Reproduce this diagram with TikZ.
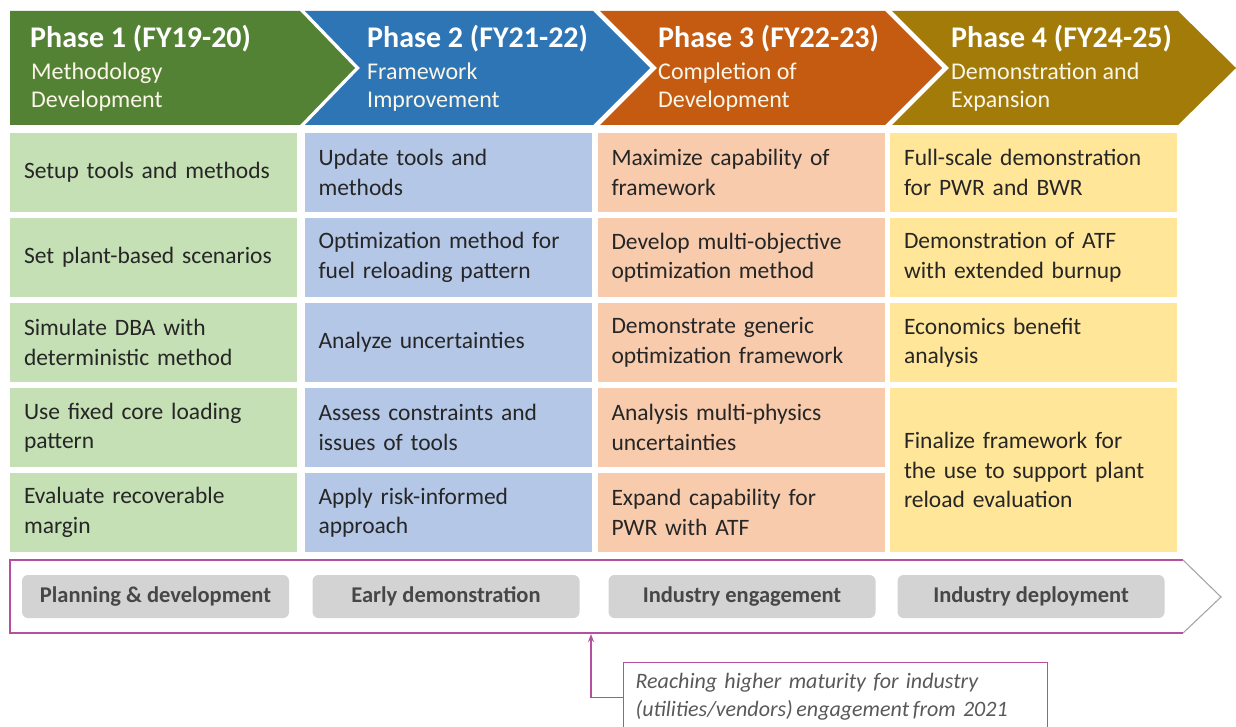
\documentclass[tikz,border=0pt]{standalone}
\usepackage{fontspec}
\setmainfont{Carlito}
\usetikzlibrary{arrows.meta}
\definecolor{hgreen}{HTML}{548235}
\definecolor{hblue}{HTML}{2E75B6}
\definecolor{horange}{HTML}{C55A11}
\definecolor{hgold}{HTML}{A37B09}
\definecolor{lgreen}{HTML}{C5E0B4}
\definecolor{lblue}{HTML}{B4C7E7}
\definecolor{lorange}{HTML}{F8CBAD}
\definecolor{lyellow}{HTML}{FFE699}
\definecolor{celltext}{HTML}{262626}
\definecolor{hdrtext}{HTML}{FAF6E8}
\definecolor{barline}{HTML}{B5509E}
\definecolor{graybox}{HTML}{D3D3D3}
\definecolor{graytext}{HTML}{474747}
\definecolor{notetext}{HTML}{595959}
\tikzset{
  cell/.style={rectangle, inner xsep=14pt, inner ysep=0pt, text width=259pt,
    minimum height=79pt, align=left, text=celltext,
    font=\fontsize{23.5}{29.5}\selectfont},
  phasetitle/.style={anchor=base west, inner sep=0pt, text=white,
    font=\fontsize{30}{34}\selectfont\bfseries},
  phasesub/.style={anchor=north west, inner sep=0pt, text=hdrtext, align=left,
    font=\fontsize{24}{28}\selectfont},
  stagebox/.style={rectangle, rounded corners=6pt, fill=graybox,
    minimum width=267pt, minimum height=43pt, text=graytext,
    font=\fontsize{22.5}{24}\selectfont\bfseries},
  notebox/.style={rectangle, draw=barline, line width=1.3pt, fill=white,
    anchor=north west, inner xsep=12pt, inner ysep=11pt, text width=400pt,
    align=left, text=notetext, font=\fontsize{22}{28}\selectfont\itshape},
}
\begin{document}
\begin{tikzpicture}[x=1pt,y=-1pt]
\clip (0,0) rectangle (1236,727);
\fill[white] (0,0) rectangle (1236,727);
% header chevrons
\fill[hgreen] (10,11) -- (300,11) -- (355,68) -- (300,125) -- (10,125) -- cycle;
\fill[hblue] (305,11) -- (593,11) -- (650,68) -- (593,125) -- (305,125) -- (360,68) -- cycle;
\fill[horange] (600,11) -- (885,11) -- (942,68) -- (885,125) -- (600,125) -- (657,68) -- cycle;
\fill[hgold] (892,11) -- (1178,11) -- (1236,68) -- (1178,125) -- (892,125) -- (949,68) -- cycle;
\node[phasetitle] (t1) at (30,48) {Phase 1 (FY19-20)};
\node[phasetitle] (t2) at (367,48) {Phase 2 (FY21-22)};
\node[phasetitle] (t3) at (658,48) {Phase 3 (FY22-23)};
\node[phasetitle] (t4) at (951,48) {Phase 4 (FY24-25)};
\node[phasesub] (s1) at (31,63) {Methodology\\Development};
\node[phasesub] (s2) at (367,63) {Framework\\Improvement};
\node[phasesub] (s3) at (658,63) {Completion of\\Development};
\node[phasesub] (s4) at (951,63) {Demonstration and\\Expansion};
% column 1
\node[cell, fill=lgreen] (a1) at (153.5,172.5) {Setup tools and methods};
\node[cell, fill=lgreen] (a2) at (153.5,257.5) {Set plant-based scenarios};
\node[cell, fill=lgreen] (a3) at (153.5,342.5) {Simulate DBA with\\deterministic method};
\node[cell, fill=lgreen] (a4) at (153.5,427.5) {Use fixed core loading\\pattern};
\node[cell, fill=lgreen] (a5) at (153.5,512.5) {Evaluate recoverable\\margin};
% column 2
\node[cell, fill=lblue] (b1) at (448,172.5) {Update tools and\\methods};
\node[cell, fill=lblue] (b2) at (448,257.5) {Optimization method for\\fuel reloading pattern};
\node[cell, fill=lblue] (b3) at (448,342.5) {Analyze uncertainties};
\node[cell, fill=lblue] (b4) at (448,427.5) {Assess constraints and\\issues of tools};
\node[cell, fill=lblue] (b5) at (448,512.5) {Apply risk-informed\\approach};
% column 3
\node[cell, fill=lorange] (c1) at (741,172.5) {Maximize capability of\\framework};
\node[cell, fill=lorange] (c2) at (741,257.5) {Develop multi-objective\\optimization method};
\node[cell, fill=lorange] (c3) at (741,342.5) {Demonstrate generic\\optimization framework};
\node[cell, fill=lorange] (c4) at (741,427.5) {Analysis multi-physics\\uncertainties};
\node[cell, fill=lorange] (c5) at (741,512.5) {Expand capability for\\PWR with ATF};
% column 4
\node[cell, fill=lyellow] (d1) at (1033.5,172.5) {Full-scale demonstration\\for PWR and BWR};
\node[cell, fill=lyellow] (d2) at (1033.5,257.5) {Demonstration of ATF\\with extended burnup};
\node[cell, fill=lyellow] (d3) at (1033.5,342.5) {Economics benefit\\analysis};
\node[cell, fill=lyellow, minimum height=164pt] (d4) at (1033.5,470) {Finalize framework for\\the use to support plant\\reload evaluation};
% bottom bar
\draw[barline, line width=1.3pt, fill=white] (1183,560) -- (10,560) -- (10,633) -- (1183,633);
\draw[gray!70, line width=1.1pt] (1183,560) -- (1221,597) -- (1183,633);
\node[stagebox] (g1) at (155.5,596.5) {Planning \& development};
\node[stagebox] (g2) at (446,596.5) {Early demonstration};
\node[stagebox] (g3) at (742,596.5) {Industry engagement};
\node[stagebox] (g4) at (1031,596.5) {Industry deployment};
% note
\node[notebox] (note) at (623,662) {Reaching higher maturity for industry\\(utilities/vendors)\,engagement\,from 2021};
\coordinate (barhit) at (591,634);
\draw[barline, line width=1.3pt, -{Stealth[length=8pt,width=6pt]}] (note.west) -| (barhit);
\end{tikzpicture}
\end{document}
